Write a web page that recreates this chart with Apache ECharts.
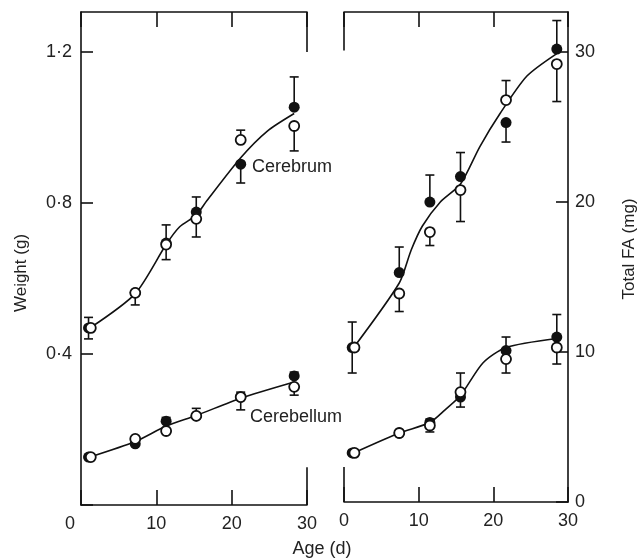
<!DOCTYPE html>
<html>
<head>
<meta charset="utf-8">
<script src="https://cdn.jsdelivr.net/npm/echarts@6/dist/echarts.min.js"></script>
<style>
  html, body { margin: 0; padding: 0; background: #fff; }
  #chart { width: 640px; height: 559px; }
</style>
</head>
<body>
<div id="chart"></div>
<script>
// sampling ages (d) (filled dots sit a touch left of open ones at day 1)
const daysLeftFilled = [1.0, 7.2, 11.3, 15.3, 21.2, 28.3]
const daysLeftOpen = [1.3, 7.2, 11.3, 15.3, 21.2, 28.3]
const daysRightFilled = [1.1, 7.4, 11.5, 15.6, 21.7, 28.5]
const daysRightOpen = [1.4, 7.4, 11.5, 15.6, 21.7, 28.5]

// left panel: weight (g)
const cerebrumWtFilled = [0.469, 0.562, 0.694, 0.776, 0.903, 1.054]
const cerebrumWtOpen = [0.469, 0.562, 0.690, 0.758, 0.967, 1.004]
const cerebrumWtFilledErr = [[0.44, 0.497], [0.53, 0.562], [0.65, 0.742], [0.776, 0.816], [0.853, 0.903], [1.054, 1.134]]
const cerebrumWtOpenErr = [null, null, null, [0.71, 0.758], [0.967, 0.993], [0.938, 1.004]]
const cerebrumWtCurveX = [1.2, 7.2, 11.3, 13.1, 15.3, 16.7, 21.2, 24.7, 28.3]
const cerebrumWtCurveY = [0.469, 0.56, 0.69, 0.737, 0.768, 0.806, 0.92, 0.99, 1.037]

const cerebellumWtFilled = [0.127, 0.162, 0.222, 0.236, 0.286, 0.342]
const cerebellumWtOpen = [0.127, 0.175, 0.196, 0.236, 0.286, 0.313]
const cerebellumWtFilledErr = [null, null, [0.222, 0.232], [0.236, 0.256], [0.252, 0.299], [0.342, 0.352]]
const cerebellumWtOpenErr = [null, null, null, null, null, [0.291, 0.313]]
const cerebellumWtCurveX = [1.2, 7.2, 11.3, 15.3, 21.2, 28.3]
const cerebellumWtCurveY = [0.127, 0.168, 0.209, 0.237, 0.283, 0.326]

// right panel: total FA (mg)
const cerebrumFaFilled = [10.3, 15.3, 20.0, 21.7, 25.3, 30.2]
const cerebrumFaOpen = [10.3, 13.9, 18.0, 20.8, 26.8, 29.2]
const cerebrumFaFilledErr = [[8.6, 12.0], [15.3, 17.0], [20.0, 21.8], [21.7, 23.3], [24.0, 25.3], [30.2, 32.1]]
const cerebrumFaOpenErr = [null, [12.7, 13.9], [17.1, 18.0], [18.7, 20.8], [26.8, 28.1], [26.7, 29.2]]
const cerebrumFaCurveX = [1.3, 7.4, 9.0, 10.5, 12.9, 15.6, 18.2, 20.9, 24.5, 28.5]
const cerebrumFaCurveY = [10.3, 14.6, 16.8, 18.4, 20.0, 21.2, 23.7, 25.9, 28.4, 29.9]

const cerebellumFaFilled = [3.27, 4.6, 5.3, 7.0, 10.1, 11.0]
const cerebellumFaOpen = [3.27, 4.6, 5.1, 7.33, 9.53, 10.3]
const cerebellumFaFilledErr = [null, null, [5.3, 5.53], [6.33, 7.0], [10.1, 11.0], [11.0, 12.5]]
const cerebellumFaOpenErr = [null, null, [4.67, 5.1], [7.33, 8.6], [8.6, 9.53], [9.2, 10.3]]
const cerebellumFaCurveX = [1.3, 7.4, 11.5, 13.5, 15.6, 18.6, 21.7, 28.5]
const cerebellumFaCurveY = [3.27, 4.6, 5.3, 6.13, 7.1, 9.27, 10.3, 10.9]

// short frame pieces on the inner edges: [x, yFrom, yTo]
const leftStubs = [[30, 1.2, 1.306], [30, 0, 0.1]]
const rightStubs = [[0, 30.1, 32.67], [0, 0, 2.33]]

const INK = '#111'
const FONT = '"Liberation Sans", Arial, sans-serif'
const LW = 1.6

const pts = (xs, ys) => xs.map((x, i) => [x, ys[i]])
const errs = (xs, e) => e.map((r, i) => (r ? [xs[i], r[0], r[1]] : null)).filter(Boolean)

const renderErr = (params, api) => {
  const x = api.value(0)
  const p1 = api.coord([x, api.value(1)])
  const p2 = api.coord([x, api.value(2)])
  const w = 4.5
  const style = { stroke: INK, lineWidth: LW }
  return {
    type: 'group',
    children: [
      { type: 'line', shape: { x1: p1[0], y1: p1[1], x2: p2[0], y2: p2[1] }, style },
      { type: 'line', shape: { x1: p1[0] - w, y1: p1[1], x2: p1[0] + w, y2: p1[1] }, style },
      { type: 'line', shape: { x1: p2[0] - w, y1: p2[1], x2: p2[0] + w, y2: p2[1] }, style }
    ]
  }
}

const group = (xi, yi, dF, dO, filled, open, fErr, oErr, cx, cy, stubs) => {
  const s = [
    {
      type: 'custom', xAxisIndex: xi, yAxisIndex: yi, renderItem: renderErr,
      encode: { x: 0, y: [1, 2] }, data: errs(dF, fErr).concat(errs(dO, oErr)), z: 2, silent: true
    },
    {
      type: 'line', xAxisIndex: xi, yAxisIndex: yi, data: pts(cx, cy), smooth: 0.25,
      showSymbol: false, lineStyle: { color: INK, width: LW }, z: 3, silent: true
    },
    {
      type: 'scatter', xAxisIndex: xi, yAxisIndex: yi, data: pts(dF, filled),
      symbolSize: 11, itemStyle: { color: INK, opacity: 1 }, z: 4
    },
    {
      type: 'scatter', xAxisIndex: xi, yAxisIndex: yi, data: pts(dO, open),
      symbolSize: 10, itemStyle: { color: '#fff', borderColor: INK, borderWidth: 1.8, opacity: 1 }, z: 5
    }
  ]
  if (stubs) {
    s[1].markLine = {
      silent: true, symbol: ['none', 'none'], label: { show: false },
      lineStyle: { color: INK, width: LW, type: 'solid' },
      data: stubs.map(([x, a, b]) => [{ coord: [x, a] }, { coord: [x, b] }])
    }
  }
  return s
}

const labelStyle = { color: '#222', fontSize: 18, fontFamily: FONT }

const xAxis = (gi, pos, showLabels, leftZero) => ({
  type: 'value', gridIndex: gi, position: pos, min: 0, max: 30, interval: 10,
  splitLine: { show: false },
  axisLine: { show: true, onZero: false, lineStyle: { color: INK, width: LW } },
  axisTick: { show: true, inside: true, length: 15, lineStyle: { color: INK, width: LW } },
  axisLabel: showLabels ? {
    ...labelStyle, margin: 10,
    formatter: (v) => (leftZero && v === 0 ? '{z|0}' : String(v)),
    rich: { z: { ...labelStyle, padding: [0, 22, 0, 0] } }
  } : { show: false }
})

const chart = echarts.init(document.getElementById('chart'))
chart.setOption({
  animation: false,
  backgroundColor: '#fff',
  grid: [
    { left: 81, top: 12, width: 226, height: 493 },
    { left: 344, top: 12, width: 224, height: 490 }
  ],
  xAxis: [
    xAxis(0, 'bottom', true, true),
    xAxis(0, 'top', false),
    xAxis(1, 'bottom', true, false),
    xAxis(1, 'top', false)
  ],
  yAxis: [
    {
      type: 'value', gridIndex: 0, position: 'left', min: 0, max: 1.306, interval: 0.4,
      splitLine: { show: false },
      axisLine: { show: true, onZero: false, lineStyle: { color: INK, width: LW } },
      axisTick: { show: true, inside: true, length: 12, lineStyle: { color: INK, width: LW } },
      axisLabel: {
        ...labelStyle, margin: 9, showMaxLabel: false,
        formatter: (v) => (v === 0 || v > 1.25 ? '' : v.toFixed(1).replace('.', '·'))
      }
    },
    {
      type: 'value', gridIndex: 1, position: 'right', min: 0, max: 32.67, interval: 10,
      splitLine: { show: false },
      axisLine: { show: true, onZero: false, lineStyle: { color: INK, width: LW } },
      axisTick: { show: true, inside: true, length: 12, lineStyle: { color: INK, width: LW } },
      axisLabel: {
        ...labelStyle, margin: 7, showMaxLabel: false,
        formatter: (v) => (v > 31 ? '' : String(v))
      }
    }
  ],
  graphic: [
    { type: 'text', x: 21, y: 273, rotation: Math.PI / 2,
      style: { text: 'Weight (g)', font: '17px ' + FONT, fill: '#222', align: 'center', verticalAlign: 'middle', textAlign: 'center', textVerticalAlign: 'middle' } },
    { type: 'text', x: 629, y: 249, rotation: Math.PI / 2,
      style: { text: 'Total FA (mg)', font: '17px ' + FONT, fill: '#222', align: 'center', verticalAlign: 'middle', textAlign: 'center', textVerticalAlign: 'middle' } },
    { type: 'text', x: 322, y: 549,
      style: { text: 'Age (d)', font: '18px ' + FONT, fill: '#222', align: 'center', verticalAlign: 'middle', textAlign: 'center', textVerticalAlign: 'middle' } },
    { type: 'text', x: 252, y: 167,
      style: { text: 'Cerebrum', font: '18px ' + FONT, fill: '#222', align: 'left', verticalAlign: 'middle', textAlign: 'left', textVerticalAlign: 'middle' } },
    { type: 'text', x: 250, y: 417,
      style: { text: 'Cerebellum', font: '18px ' + FONT, fill: '#222', align: 'left', verticalAlign: 'middle', textAlign: 'left', textVerticalAlign: 'middle' } }
  ],
  series: [
    ...group(0, 0, daysLeftFilled, daysLeftOpen, cerebrumWtFilled, cerebrumWtOpen, cerebrumWtFilledErr, cerebrumWtOpenErr, cerebrumWtCurveX, cerebrumWtCurveY, leftStubs),
    ...group(0, 0, daysLeftFilled, daysLeftOpen, cerebellumWtFilled, cerebellumWtOpen, cerebellumWtFilledErr, cerebellumWtOpenErr, cerebellumWtCurveX, cerebellumWtCurveY),
    ...group(2, 1, daysRightFilled, daysRightOpen, cerebrumFaFilled, cerebrumFaOpen, cerebrumFaFilledErr, cerebrumFaOpenErr, cerebrumFaCurveX, cerebrumFaCurveY, rightStubs),
    ...group(2, 1, daysRightFilled, daysRightOpen, cerebellumFaFilled, cerebellumFaOpen, cerebellumFaFilledErr, cerebellumFaOpenErr, cerebellumFaCurveX, cerebellumFaCurveY)
  ]
})
</script>
</body>
</html>
